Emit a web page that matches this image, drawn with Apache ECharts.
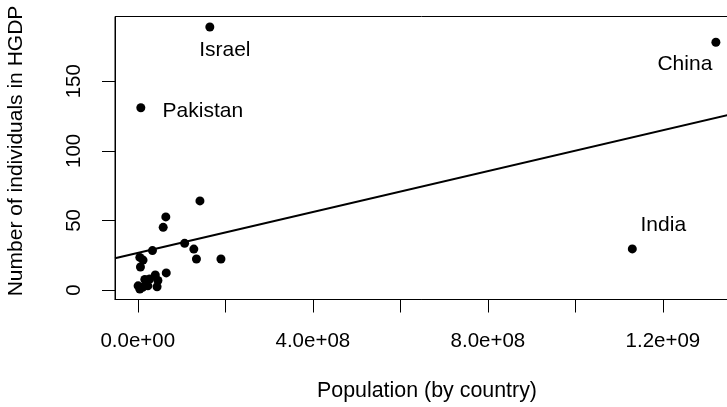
<!DOCTYPE html>
<html>
<head>
<meta charset="utf-8">
<script src="https://cdn.jsdelivr.net/npm/echarts@6/dist/echarts.min.js"></script>
<style>
html,body{margin:0;padding:0;background:#fff;}
#chart{width:727px;height:407px;}
</style>
</head>
<body>
<div id="chart"></div>
<script>
// Population (by country) and number of HGDP individuals
const countryLabels = ["Israel","Pakistan","China","India","","","","","","","","","","","","","","","","","","","","",""];
const population = [1.646e8, 6.9e6, 1.321e9, 1.13e9, 1.42e8, 6.4e7, 5.8e7, 3.35e7, 1.07e8, 1.28e8, 1.34e8, 1.9e8, 4.6e6, 1.2e7, 6.0e6, 6.5e7, 4.0e7, 4.4e7, 2.7e7, 2.3e7, 1.1e7, 4.6e6, 0.7e6, 1.6e7, 4.6e7];
const individuals = [189, 131, 178, 29.5, 64, 52.5, 45, 28.3, 33.5, 29.4, 22.3, 22.3, 23.4, 21.5, 16.5, 12.3, 10.8, 2.3, 7.9, 3, 2, 0.7, 3, 7.5, 6.8];
const xTickValues = [0, 2e8, 4e8, 6e8, 8e8, 1e9, 1.2e9];
const xLabelValues = [0, 4e8, 8e8, 1.2e9];
const yTickValues = [0, 50, 100, 150];

// R-style axis ranges (4% extension)
function extRange(arr){
  const lo = Math.min(...arr), hi = Math.max(...arr), d = (hi - lo) * 0.04;
  return [lo - d, hi + d];
}
const xr = extRange(population);
const yr = extRange(individuals);

// least-squares fit
const n = population.length;
const mx = population.reduce((a,b)=>a+b,0)/n;
const my = individuals.reduce((a,b)=>a+b,0)/n;
let sxy = 0, sxx = 0;
for (let i=0;i<n;i++){ sxy += (population[i]-mx)*(individuals[i]-my); sxx += (population[i]-mx)**2; }
const slope = sxy/sxx, intercept = my - slope*mx;
const fitLine = [[xr[0], intercept + slope*xr[0]], [xr[1], intercept + slope*xr[1]]];

const labelPlacement = {
  "Israel":   {offset:[15, 23]},
  "China":    {offset:[-31, 22]},
  "India":    {offset:[31, -24]},
  "Pakistan": {offset:[62, 4]}
};

const FONT = 'Liberation Sans, Arial, Helvetica, sans-serif';
const FS_TEXT = 21;
const FS_TICK = 20.5;
const FS_TITLE = 21.4;

function sci(v){
  let s = v.toExponential(1);
  return s.replace(/e([+-])(\d)$/, 'e$10$2');
}

const pts = population.map((p,i)=>{
  const item = {value:[p, individuals[i]]};
  const nm = countryLabels[i];
  if (nm) {
    item.name = nm;
    item.label = {show:true, formatter: nm, position:'inside', align:'center', verticalAlign:'middle',
      offset: labelPlacement[nm].offset, color:'#000', opacity:1, fontSize:FS_TEXT, fontFamily:FONT};
  }
  return item;
});

const chart = echarts.init(document.getElementById('chart'), null, {renderer:'canvas'});
chart.setOption({
  animation:false,
  backgroundColor:'#fff',
  grid:{left:115, top:16.5, right:-12, bottom:107.5, show:true, borderColor:'#000', borderWidth:1, containLabel:false, outerBoundsMode:'none'},
  xAxis:{
    type:'value', min:xr[0], max:xr[1],
    name:'Population (by country)', nameLocation:'middle', nameGap:81,
    nameTextStyle:{color:'#000', fontSize:FS_TITLE, fontFamily:FONT},
    splitLine:{show:false},
    axisLine:{show:true, onZero:false, lineStyle:{color:'#000', width:1}},
    axisTick:{show:true, inside:false, length:13, customValues:xTickValues, lineStyle:{color:'#000', width:1}},
    axisLabel:{show:true, customValues:xLabelValues, margin:31, color:'#000', fontSize:FS_TICK, fontFamily:FONT, formatter:sci, hideOverlap:false}
  },
  yAxis:{
    type:'value', min:yr[0], max:yr[1],
    name:'Number of individuals in HGDP', nameLocation:'middle', nameGap:88, nameRotate:90,
    nameTextStyle:{color:'#000', fontSize:21, fontFamily:FONT, padding:[0,0,0,14]},
    splitLine:{show:false},
    axisLine:{show:true, onZero:false, lineStyle:{color:'#000', width:1}},
    axisTick:{show:true, inside:false, length:13, customValues:yTickValues, lineStyle:{color:'#000', width:1}},
    axisLabel:{show:true, customValues:yTickValues, rotate:90, margin:30, color:'#000', fontSize:FS_TICK, fontFamily:FONT}
  },
  series:[
    {type:'scatter', data:pts, symbol:'circle', symbolSize:9, itemStyle:{color:'#000', opacity:1}, emphasis:{disabled:true}, silent:true, z:3},
    {type:'line', data:fitLine, showSymbol:false, symbol:'none', lineStyle:{color:'#000', width:2}, silent:true, z:2}
  ]
});
</script>
</body>
</html>
